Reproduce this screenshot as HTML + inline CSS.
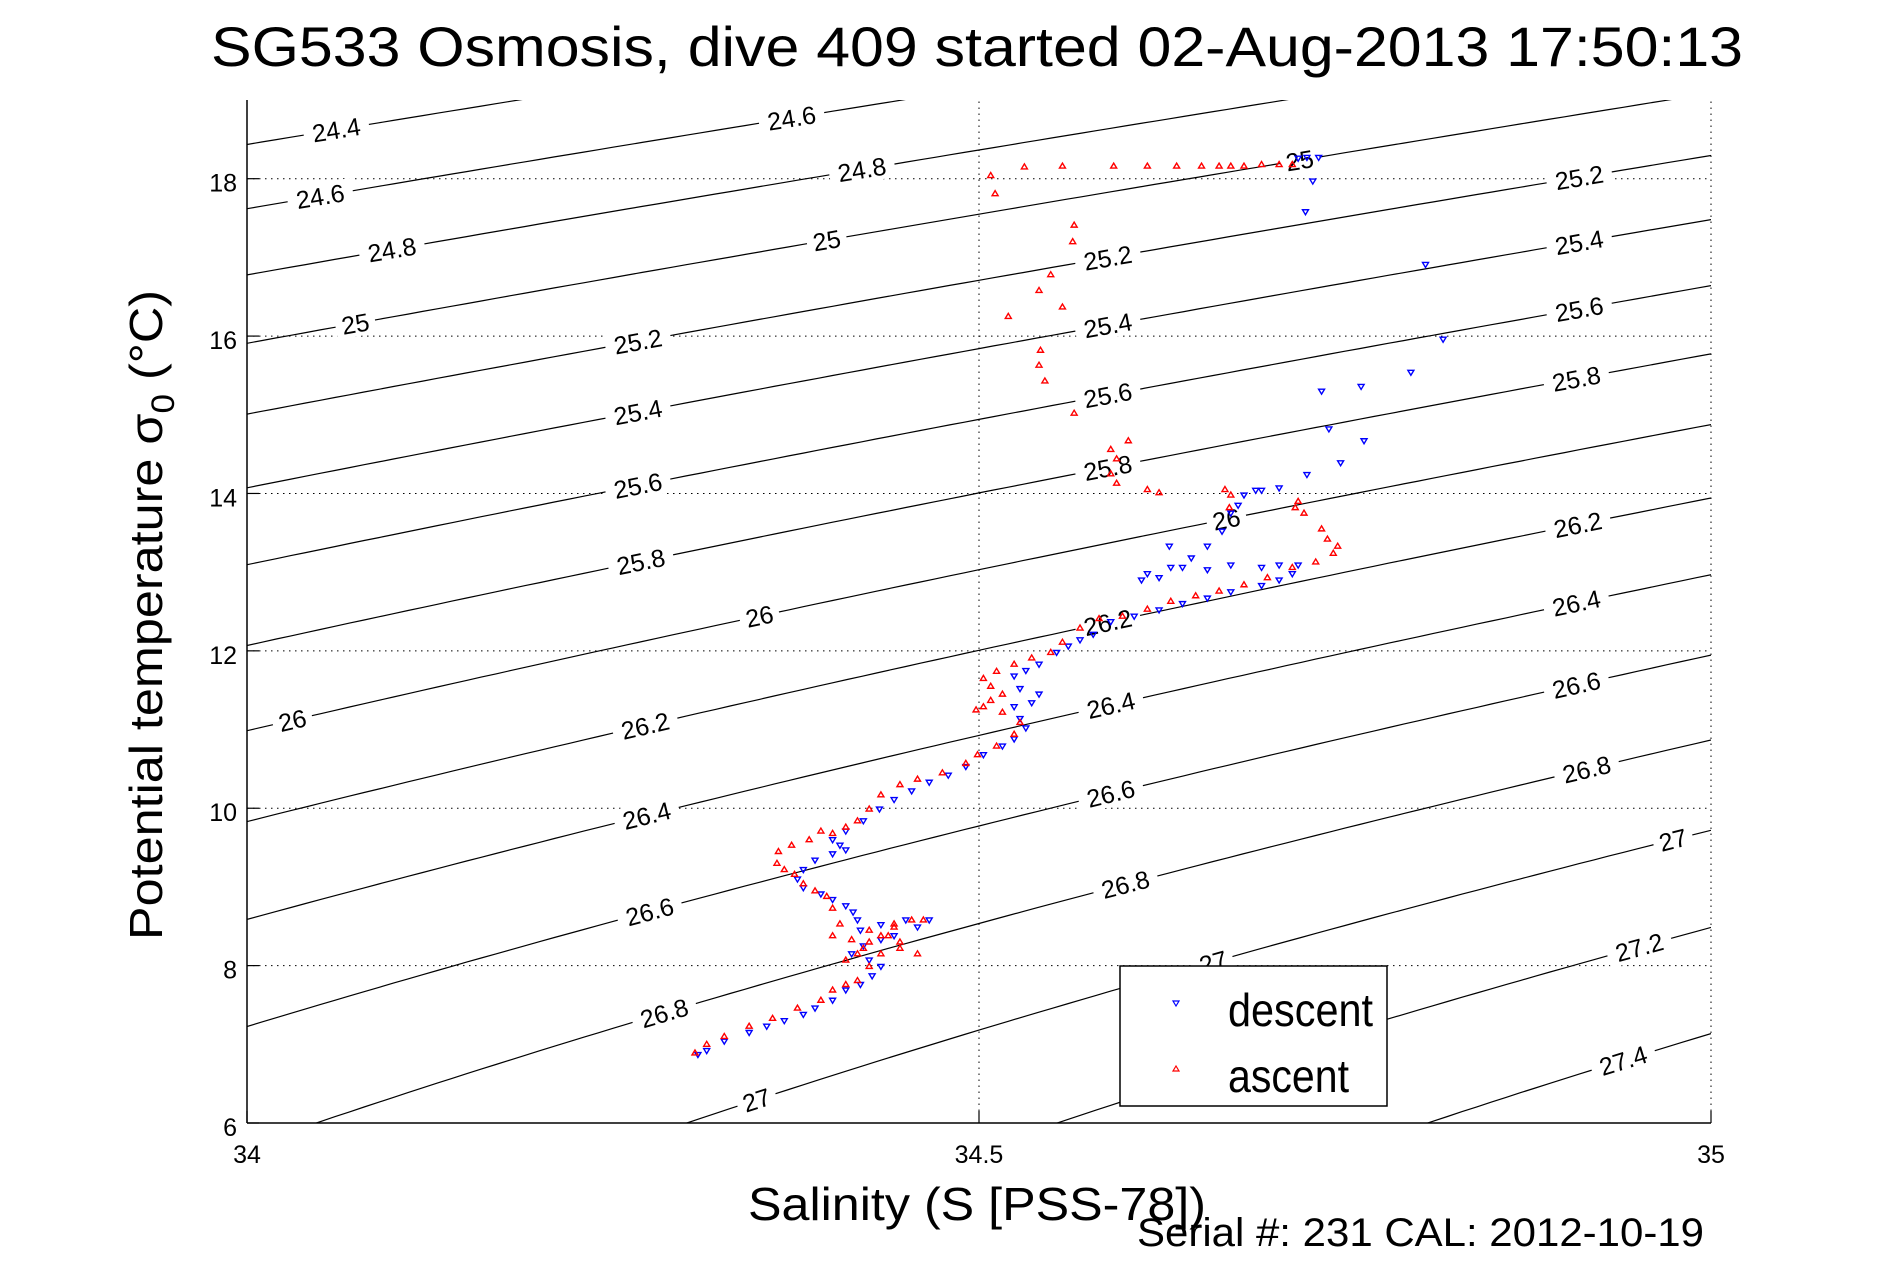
<!DOCTYPE html>
<html><head><meta charset="utf-8"><style>
html,body{margin:0;padding:0;background:#fff;width:1891px;height:1262px;overflow:hidden}
svg{display:block;font-family:"Liberation Sans",Arial,sans-serif}
</style></head><body>
<svg id="chart" width="1891" height="1262" viewBox="0 0 1891 1262" xmlns="http://www.w3.org/2000/svg">
<rect width="1891" height="1262" fill="#fff"/>
<defs><clipPath id="plotclip"><rect x="247" y="100" width="1464" height="1023"/></clipPath></defs>
<text x="977" y="66" font-size="56" text-anchor="middle" textLength="1532" lengthAdjust="spacingAndGlyphs">SG533 Osmosis, dive 409 started 02-Aug-2013 17:50:13</text>
<g id="grid"></g>
<g id="contours" clip-path="url(#plotclip)"></g>
<g id="clabels"></g>
<g id="series" clip-path="url(#plotclip)"></g>
<g id="axes"></g>
<text transform="translate(162,615) rotate(-90)" font-size="46" text-anchor="middle" textLength="650" lengthAdjust="spacingAndGlyphs">Potential temperature σ<tspan font-size="32" dy="12">0</tspan><tspan dy="-12"> (°C)</tspan></text>
<text x="977" y="1220" font-size="46" text-anchor="middle" textLength="458" lengthAdjust="spacingAndGlyphs">Salinity (S [PSS-78])</text>
<text x="1137" y="1246" font-size="40" textLength="567" lengthAdjust="spacingAndGlyphs">Serial #: 231  CAL: 2012-10-19</text>
<g>
<rect x="1120" y="966" width="267" height="140" fill="#fff" stroke="#000" stroke-width="1.5"/>
<path d="M1173,1001 h6 l-3,5 z" fill="none" stroke="#00f" stroke-width="1.2"/>
<text x="1228" y="1026" font-size="46" textLength="145" lengthAdjust="spacingAndGlyphs">descent</text>
<path d="M1173,1071 h6 l-3,-5 z" fill="none" stroke="#f00" stroke-width="1.2"/>
<text x="1228" y="1092" font-size="46" textLength="121" lengthAdjust="spacingAndGlyphs">ascent</text>
</g>
</svg>
<script>
const xTicks=[34,34.5,35];
const xTickLabels=["34","34.5","35"];
const yTicks=[6,8,10,12,14,16,18];
const yTickLabels=["6","8","10","12","14","16","18"];
const sigmaLevels=[24.4,24.6,24.8,25,25.2,25.4,25.6,25.8,26,26.2,26.4,26.6,26.8,27,27.2,27.4];
const labelSalinities=[[34.061],[34.372,34.050],[34.42,34.099],[34.719,34.396,34.074],[34.91,34.588,34.267],[34.91,34.588,34.267],[34.91,34.588,34.267],[34.908,34.588,34.269],[34.669,34.35,34.031],[34.909,34.588,34.272],[34.908,34.59,34.273],[34.908,34.59,34.275],[34.915,34.6,34.285],[34.974,34.66,34.348],[34.951],[34.94]];
const descentS=[34.718,34.724,34.732,34.728,34.723,34.805,34.817,34.795,34.761,34.734,34.739,34.763,34.747,34.724,34.705,34.693,34.689,34.681,34.677,34.672,34.666,34.656,34.645,34.630,34.631,34.615,34.623,34.611,34.639,34.656,34.672,34.693,34.705,34.718,34.714,34.705,34.693,34.672,34.656,34.639,34.623,34.606,34.590,34.578,34.569,34.561,34.553,34.541,34.532,34.524,34.528,34.541,34.536,34.524,34.528,34.532,34.524,34.516,34.503,34.491,34.479,34.466,34.454,34.442,34.432,34.421,34.409,34.400,34.405,34.409,34.400,34.388,34.380,34.376,34.380,34.392,34.400,34.409,34.414,34.417,34.419,34.433,34.450,34.466,34.458,34.442,34.433,34.421,34.413,34.425,34.433,34.427,34.419,34.409,34.400,34.388,34.380,34.367,34.355,34.343,34.326,34.314,34.308];
const descentT=[18.26,18.27,18.27,17.97,17.58,16.91,15.96,15.54,15.36,15.30,14.82,14.67,14.39,14.24,14.07,14.04,14.04,13.98,13.85,13.75,13.52,13.33,13.18,13.33,13.06,12.98,12.93,12.90,13.06,13.03,13.09,13.06,13.09,13.09,12.98,12.90,12.83,12.75,12.67,12.60,12.52,12.44,12.37,12.21,12.14,12.06,11.98,11.83,11.75,11.68,11.52,11.45,11.34,11.29,11.14,11.02,10.88,10.79,10.68,10.53,10.42,10.33,10.22,10.11,9.99,9.84,9.71,9.60,9.53,9.47,9.42,9.34,9.22,9.10,8.99,8.91,8.84,8.76,8.68,8.58,8.45,8.52,8.58,8.58,8.49,8.38,8.33,8.25,8.15,8.07,7.99,7.87,7.76,7.69,7.56,7.46,7.38,7.30,7.23,7.15,7.04,6.92,6.87];
const ascentS=[34.306,34.314,34.326,34.343,34.359,34.376,34.392,34.400,34.409,34.417,34.425,34.433,34.446,34.458,34.446,34.438,34.425,34.417,34.409,34.421,34.433,34.442,34.454,34.462,34.442,34.425,34.413,34.400,34.405,34.400,34.396,34.388,34.380,34.374,34.367,34.362,34.363,34.372,34.384,34.392,34.400,34.409,34.417,34.425,34.433,34.446,34.458,34.475,34.491,34.499,34.512,34.524,34.528,34.516,34.503,34.498,34.508,34.516,34.508,34.503,34.512,34.524,34.536,34.549,34.557,34.569,34.582,34.598,34.615,34.631,34.648,34.664,34.681,34.697,34.714,34.730,34.742,34.745,34.738,34.734,34.722,34.716,34.718,34.672,34.671,34.668,34.623,34.615,34.594,34.590,34.594,34.590,34.602,34.565,34.545,34.541,34.542,34.520,34.557,34.541,34.549,34.564,34.565,34.511,34.508,34.531,34.557,34.592,34.615,34.635,34.652,34.664,34.672,34.681,34.693,34.705,34.714];
const ascentT=[6.89,7.00,7.10,7.23,7.33,7.46,7.56,7.69,7.76,7.81,7.99,8.15,8.22,8.15,8.30,8.38,8.30,8.15,8.07,8.22,8.38,8.49,8.58,8.58,8.53,8.45,8.33,8.38,8.53,8.73,8.88,8.95,9.04,9.16,9.22,9.30,9.45,9.53,9.60,9.71,9.68,9.76,9.84,9.99,10.17,10.30,10.37,10.45,10.57,10.68,10.79,10.94,11.09,11.22,11.29,11.25,11.37,11.45,11.55,11.65,11.74,11.83,11.91,11.98,12.11,12.29,12.41,12.44,12.53,12.63,12.70,12.76,12.84,12.93,13.06,13.13,13.24,13.33,13.42,13.55,13.75,13.82,13.90,13.98,13.82,14.05,14.01,14.05,14.13,14.25,14.44,14.56,14.67,15.02,15.43,15.63,15.82,16.25,16.37,16.58,16.78,17.20,17.41,17.81,18.04,18.15,18.16,18.16,18.16,18.16,18.16,18.16,18.16,18.16,18.18,18.18,18.18];

const NS="http://www.w3.org/2000/svg";
const X0=247,X1=1711,Y0=1123,Y1=100,SMIN=34,SMAX=35,TMIN=6,TMAX=19;
function xs(s){return X0+(s-SMIN)/(SMAX-SMIN)*(X1-X0);}
function ys(t){return Y0-(t-TMIN)/(TMAX-TMIN)*(Y0-Y1);}
function mk(tag,attrs,parent){const e=document.createElementNS(NS,tag);for(const k in attrs)e.setAttribute(k,attrs[k]);parent.appendChild(e);return e;}
function sigma0(S,T){
  const rw=999.842594+6.793952e-2*T-9.095290e-3*T*T+1.001685e-4*T**3-1.120083e-6*T**4+6.536332e-9*T**5;
  const A=8.24493e-1-4.0899e-3*T+7.6438e-5*T*T-8.2467e-7*T**3+5.3875e-9*T**4;
  const B=-5.72466e-3+1.0227e-4*T-1.6546e-6*T*T;
  const C=4.8314e-4;
  return rw+A*S+B*Math.pow(S,1.5)+C*S*S-1000;
}
function tAt(S,sig){let lo=-2,hi=32;for(let i=0;i<50;i++){const m=(lo+hi)/2;if(sigma0(S,m)>sig)lo=m;else hi=m;}return (lo+hi)/2;}

const grid=document.getElementById('grid');
xTicks.forEach((v,i)=>{if(v>SMIN){const l=mk('line',{x1:xs(v),x2:xs(v),y1:Y0,y2:Y1,stroke:'#000','stroke-width':1,'stroke-dasharray':'1.5,4.5'},grid);

}});
yTicks.forEach(v=>{if(v>TMIN){const l=mk('line',{x1:X0,x2:X1,y1:ys(v),y2:ys(v),stroke:'#000','stroke-width':1,'stroke-dasharray':'1.5,4.5'},grid);

}});

const cg=document.getElementById('contours'),lg=document.getElementById('clabels');
sigmaLevels.forEach((lev,i)=>{
  let d='';for(let s=SMIN;s<=SMAX+1e-9;s+=0.01){d+=(d?'L':'M')+xs(s).toFixed(1)+','+ys(tAt(s,lev)).toFixed(1);}
  const p=mk('path',{d:d,fill:'none',stroke:'#000','stroke-width':1.2},cg);
  
  
  labelSalinities[i].forEach(s=>{
    const x=xs(s),y=ys(tAt(s,lev));
    const x2=xs(s+0.01),y2=ys(tAt(s+0.01,lev));
    const ang=Math.atan2(y2-y,x2-x)*180/Math.PI;
    const g=mk('g',{transform:`translate(${x.toFixed(1)},${y.toFixed(1)}) rotate(${ang.toFixed(1)})`},lg);
    
    
    const txt=String(lev);const w=txt.length*13+14;
    mk('rect',{x:-w/2,y:-13,width:w,height:26,fill:'#fff'},g);
    const t=mk('text',{x:0,y:9,'font-size':25,'text-anchor':'middle'},g);t.textContent=txt;
  });
});

const sg=document.getElementById('series');
function drawSeries(S,T,color,down,name){
  const g=mk('g',{},sg);
  
  
  S.forEach((s,i)=>{
    const x=xs(s),y=ys(T[i]);
    const dd=down?`M${x-3},${y-2} h6 l-3,5 z`:`M${x-3},${y+2} h6 l-3,-5 z`;
    const m=mk('path',{d:dd,fill:'none',stroke:color,'stroke-width':1.4},g);
    
    
  });
}
drawSeries(descentS,descentT,'#00f',true,'descent-series');
drawSeries(ascentS,ascentT,'#f00',false,'ascent-series');

const ax=document.getElementById('axes');
const la=mk('line',{x1:X0,x2:X0,y1:Y0,y2:Y1,stroke:'#000','stroke-width':1.5},ax);


const ba=mk('line',{x1:X0,x2:X1,y1:Y0,y2:Y0,stroke:'#000','stroke-width':1.5},ax);


xTicks.forEach((v,i)=>{
  mk('line',{x1:xs(v),x2:xs(v),y1:Y0,y2:Y0-12,stroke:'#000','stroke-width':1.2},ax);
  const t=mk('text',{x:xs(v),y:1163,'font-size':25,'text-anchor':'middle'},ax);
  t.textContent=xTickLabels[i];
  
  
});
yTicks.forEach((v,i)=>{
  mk('line',{x1:X0,x2:X0+12,y1:ys(v),y2:ys(v),stroke:'#000','stroke-width':1.2},ax);
  const t=mk('text',{x:237,y:ys(v)+13,'font-size':25,'text-anchor':'end'},ax);
  t.textContent=yTickLabels[i];
  
  
});
</script>
</body></html>
